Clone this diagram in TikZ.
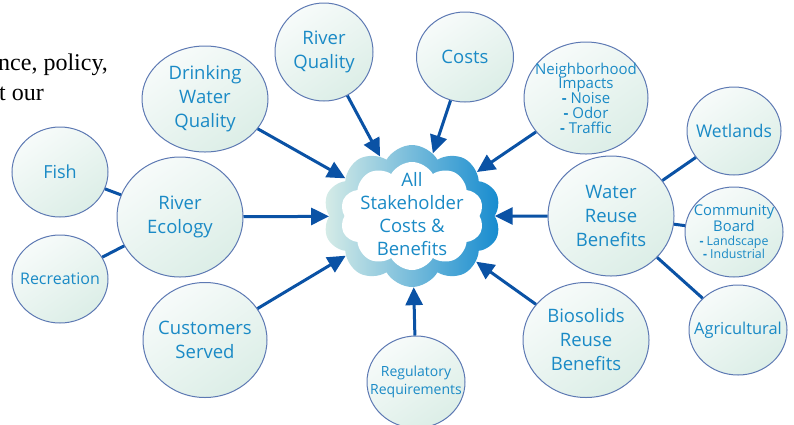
\documentclass[tikz,border=0pt]{standalone}
\usepackage{fontspec}
\usetikzlibrary{shapes.geometric,shapes.symbols,arrows.meta}
\newfontfamily\bubblefont{Open Sans}
\newfontfamily\pagefont{Liberation Serif}
\newcommand\bsize[2]{\bubblefont\fontsize{#1}{#2}\selectfont}

\definecolor{Txt}{HTML}{1A8AC6}
\definecolor{Rim}{HTML}{5D79B3}
\definecolor{Feed}{HTML}{0A52A5}
\definecolor{BubA}{HTML}{F7FBFA}
\definecolor{BubB}{HTML}{DCEEE7}
\definecolor{CloudL}{HTML}{D6ECE7}
\definecolor{CloudR}{HTML}{168BCF}

\begin{document}
\begin{tikzpicture}[x=1pt, y=-1pt,
  bubble/.style={ellipse, draw=Rim, line width=1, top color=BubA, bottom color=BubB, shading angle=35, text=Txt, align=center, inner sep=-40pt},
  puff/.style={cloud, cloud puffs=10, cloud puff arc=120, cloud ignores aspect, inner sep=0},
  feed/.style={line width=3, color=Feed, -{Triangle[length=18pt,width=17pt]}},
  link/.style={line width=3, color=Feed}]

 \useasboundingbox (0,0) rectangle (794,424);

 %%%%%%%%%% Text of the page %%%%%%%%%%
 \node [anchor=base west, inner sep=0, font=\pagefont\fontsize{24}{28}\selectfont] (lineA) at (-2,70) {nce, policy,};
 \node [anchor=base east, inner sep=0, font=\pagefont\fontsize{24}{28}\selectfont] (lineB) at (44,100) {t our};

 %%%%%%%%%% The cloud %%%%%%%%%%
 \node [puff, minimum width=178, minimum height=142, left color=CloudL, right color=CloudR] (hub) at (412,216) {};
 \node [puff, minimum width=144, minimum height=108, fill=white] (hubin) at (hub) {};
 \node [text=Txt, align=center, font=\bsize{18.5}{23}] (hubtext) at (412,214) {All\\Stakeholder\\Costs \&\\Benefits};

 %%%%%%%%%% Bubbles left %%%%%%%%%%
 \node [bubble, minimum width=96, minimum height=90, font=\bsize{18}{22}] (fish) at (60,172) {Fish};
 \node [bubble, minimum width=96, minimum height=88, font=\bsize{16}{20}] (recre) at (60,279) {Recreation};
 \node [bubble, minimum width=126, minimum height=120, font=\bsize{18.5}{24}] (ecol) at (180,217) {River\\Ecology};
 \node [bubble, minimum width=126, minimum height=106, font=\bsize{18.5}{24}] (drink) at (205,99) {Drinking\\Water\\Quality};
 \node [bubble, minimum width=124, minimum height=115, font=\bsize{18.5}{24}] (cust) at (205,340) {Customers\\Served};

 %%%%%%%%%% Bubbles top and bottom %%%%%%%%%%
 \node [bubble, minimum width=98, minimum height=98, font=\bsize{18.5}{24}] (rqual) at (324,52) {River\\Quality};
 \node [bubble, minimum width=97, minimum height=90, font=\bsize{18.5}{24}] (costs) at (465,57) {Costs};
 \node [bubble, minimum width=98, minimum height=92, font=\bsize{14}{18}] (regul) at (416,382) {Regulatory\\Requirements};

 %%%%%%%%%% Bubbles right %%%%%%%%%%
 \node [bubble, minimum width=124, minimum height=112, font=\bsize{15}{14.8}] (neigh) at (586,98) {Neighborhood\\Impacts\\\textbf{-} Noise\\\textbf{-} Odor\\\textbf{-} Traffic};
 \node [bubble, minimum width=126, minimum height=120, font=\bsize{18.5}{24}] (reuse) at (611,216) {Water\\Reuse\\Benefits};
 \node [bubble, minimum width=126, minimum height=115, font=\bsize{18.5}{24}] (bios) at (586,340) {Biosolids\\Reuse\\Benefits};
 \node [bubble, minimum width=94, minimum height=88, font=\bsize{17.5}{22}] (wet) at (734,131) {Wetlands};
 \node [bubble, minimum width=98, minimum height=90, font=\bsize{14.8}{13.5}] (board) at (734,232) {Community\\Board\\{\bsize{12.4}{12.7}\textbf{-} Landscape}\\{\bsize{12.4}{12.7}\textbf{-} Industrial}};
 \node [bubble, minimum width=98, minimum height=90, font=\bsize{16.4}{20}] (agri) at (738,330) {Agricultural};

 %%%%%%%%%% Side links %%%%%%%%%%
 \draw [link] (fish) -- (ecol);
 \draw [link] (recre) -- (ecol);
 \draw [link] (reuse) -- (wet);
 \draw [link] (reuse) -- (board);
 \draw [link] (reuse) -- (agri);

 %%%%%%%%%% Arrows to the cloud %%%%%%%%%%
 \draw [feed] (drink) -- (hub);
 \draw [feed] (rqual) -- (hub);
 \draw [feed] (costs) -- (hub);
 \draw [feed] (neigh) -- (hub);
 \draw [feed] (ecol) -- (hub);
 \draw [feed] (reuse) -- (hub);
 \draw [feed] (cust) -- (hub);
 \draw [feed] (regul) -- (hub);
 \draw [feed] (bios) -- (hub);

\end{tikzpicture}
\end{document}
